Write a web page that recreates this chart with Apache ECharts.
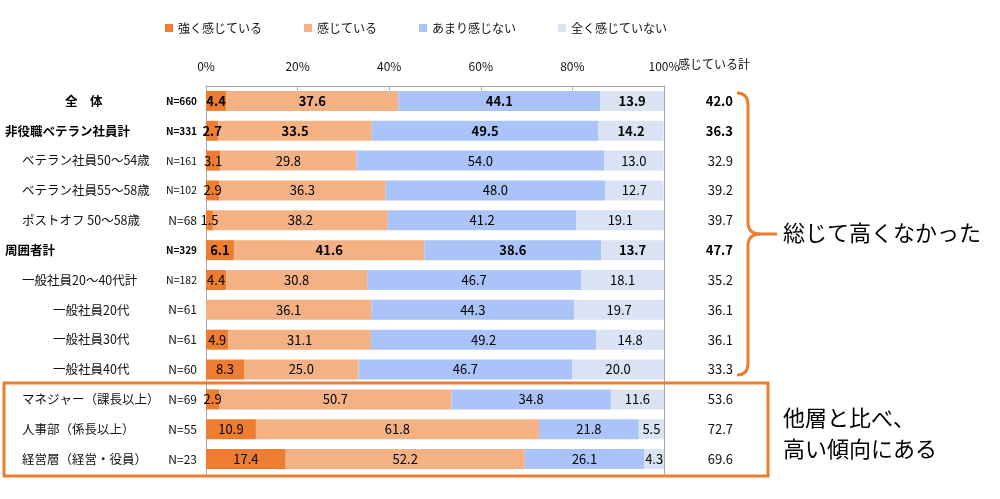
<!DOCTYPE html>
<html><head><meta charset="utf-8">
<script src="https://cdn.jsdelivr.net/npm/echarts@6/dist/echarts.min.js"></script>
<style>html,body{margin:0;padding:0;background:#fff}#c{width:1000px;height:499px}</style>
</head><body><div id="c"></div>
<script>
const categories = ['全　体','非役職ベテラン社員計','ベテラン社員50～54歳','ベテラン社員55～58歳','ポストオフ 50～58歳','周囲者計','一般社員20～40代計','一般社員20代','一般社員30代','一般社員40代','マネジャー（課長以上）','人事部（係長以上）','経営層（経営・役員）'];
const sampleSizes = ['N=660','N=331','N=161','N=102','N=68','N=329','N=182','N=61','N=61','N=60','N=69','N=55','N=23'];
const seriesNames = ['強く感じている','感じている','あまり感じない','全く感じていない'];
const strong   = [4.4, 2.7, 3.1, 2.9, 1.5, 6.1, 4.4, 0, 4.9, 8.3, 2.9, 10.9, 17.4];
const feel     = [37.6, 33.5, 29.8, 36.3, 38.2, 41.6, 30.8, 36.1, 31.1, 25.0, 50.7, 61.8, 52.2];
const notMuch  = [44.1, 49.5, 54.0, 48.0, 41.2, 38.6, 46.7, 44.3, 49.2, 46.7, 34.8, 21.8, 26.1];
const notAtAll = [13.9, 14.2, 13.0, 12.7, 19.1, 13.7, 18.1, 19.7, 14.8, 20.0, 11.6, 5.5, 4.3];
const totals   = [42.0, 36.3, 32.9, 39.2, 39.7, 47.7, 35.2, 36.1, 36.1, 33.3, 53.6, 72.7, 69.6];
const totalHeader = '感じている計';

// styling (not data)
const boldRows = [0, 1, 5];
const indentStyle = ['top','lv0','lv1','lv1','lv1','lv0','lv1','lv2','lv2','lv2','lv1','lv1','lv1'];
const colors = ['#ED7D31','#F4B183','#AAC4F9','#DAE3F3'];
const FONT = '"Noto Sans CJK JP", "Noto Sans", sans-serif';
const ORANGE = '#ED7D31';

const chart = echarts.init(document.getElementById('c'), null, {renderer:'canvas'});
const values = [strong, feel, notMuch, notAtAll];

const series = values.map((arr, si) => ({
  name: seriesNames[si],
  type: 'bar',
  stack: 'all',
  barWidth: 20,
  itemStyle: {color: colors[si]},
  data: arr.map((v, i) => ({
    value: v,
    label: {fontWeight: boldRows.includes(i) ? 'bold' : 'normal'}
  })),
  label: {
    show: true,
    position: 'inside',
    color: '#000',
    fontFamily: FONT,
    fontSize: 13,
    formatter: p => p.value > 0 ? p.value.toFixed(1) : ''
  },
  emphasis: {disabled: true},
  animation: false
}));

const braceStyle = {stroke: ORANGE, lineWidth: 3, fill: null};
const option = {
  animation: false,
  textStyle: {fontFamily: FONT},
  legend: {
    data: seriesNames,
    left: 160, top: 17,
    itemWidth: 8, itemHeight: 8, itemGap: 42,
    icon: 'rect',
    textStyle: {fontFamily: FONT, fontSize: 12, color: '#111'}
  },
  grid: {left: 206, right: 336, top: 86, bottom: 25},
  xAxis: {
    type: 'value', position: 'top', min: 0, max: 100, interval: 20,
    axisLine: {show: true, lineStyle: {color: '#A6A6A6', width: 1}},
    axisTick: {show: true, inside: true, length: 4, lineStyle: {color: '#A6A6A6'}},
    splitLine: {show: false},
    axisLabel: {
      margin: 14, color: '#111', fontFamily: FONT, fontSize: 12,
      formatter: v => v + '%'
    }
  },
  yAxis: [
    {
      type: 'category', data: categories, inverse: true, position: 'left',
      axisLine: {show: true, lineStyle: {color: '#A6A6A6'}},
      axisTick: {show: false},
      axisLabel: {
        margin: 201, align: 'left', interval: 0,
        formatter: (v, i) => '{' + indentStyle[i] + '|' + v + '}',
        rich: {
          top: {fontFamily: FONT, fontSize: 12.5, fontWeight: 'bold', color: '#000', padding: [0,0,0,60]},
          lv0: {fontFamily: FONT, fontSize: 12.5, fontWeight: 'bold', color: '#000', padding: [0,0,0,0]},
          lv1: {fontFamily: FONT, fontSize: 12.5, color: '#111', padding: [0,0,0,17]},
          lv2: {fontFamily: FONT, fontSize: 12.5, color: '#111', padding: [0,0,0,48]}
        }
      }
    },
    {
      type: 'category', data: sampleSizes, inverse: true, position: 'left',
      axisLine: {show: false}, axisTick: {show: false},
      axisLabel: {
        margin: 9, align: 'right', interval: 0,
        formatter: (v, i) => {
          const b = boldRows.includes(i) ? 'B' : 'R';
          const s = v.length > 4 ? 's' : 'm';
          return '{' + s + b + '|' + v + '}';
        },
        rich: {
          sB: {fontFamily: FONT, fontSize: 10, fontWeight: 'bold', color: '#000'},
          sR: {fontFamily: FONT, fontSize: 10.5, color: '#111'},
          mB: {fontFamily: FONT, fontSize: 12, fontWeight: 'bold', color: '#000'},
          mR: {fontFamily: FONT, fontSize: 12, color: '#111'}
        }
      }
    },
    {
      type: 'category', data: totals.map(v => v.toFixed(1)), inverse: true, position: 'right',
      axisLine: {show: true, lineStyle: {color: '#A6A6A6'}},
      axisTick: {show: false},
      axisLabel: {
        margin: 69, align: 'right', interval: 0,
        formatter: (v, i) => '{' + (boldRows.includes(i) ? 'b' : 'r') + '|' + v + '}',
        rich: {
          b: {fontFamily: FONT, fontSize: 13, fontWeight: 'bold', color: '#000'},
          r: {fontFamily: FONT, fontSize: 13, color: '#111'}
        }
      }
    }
  ],
  series: series,
  graphic: [
    {
      type: 'text', z: 100, left: 678, top: 58,
      style: {text: totalHeader, font: '12px ' + FONT, fill: '#111'}
    },
    {type: 'bezierCurve', z: 100, shape: {x1: 737, y1: 93, cpx1: 748, cpy1: 93, x2: 748, y2: 105}, style: braceStyle},
    {type: 'line', z: 100, shape: {x1: 748, y1: 105, x2: 748, y2: 222}, style: braceStyle},
    {type: 'bezierCurve', z: 100, shape: {x1: 748, y1: 222, cpx1: 748, cpy1: 234, x2: 760, y2: 234}, style: braceStyle},
    {type: 'line', z: 100, shape: {x1: 760, y1: 234, x2: 777, y2: 234}, style: braceStyle},
    {type: 'bezierCurve', z: 100, shape: {x1: 760, y1: 234, cpx1: 748, cpy1: 234, x2: 748, y2: 246}, style: braceStyle},
    {type: 'line', z: 100, shape: {x1: 748, y1: 246, x2: 748, y2: 363}, style: braceStyle},
    {type: 'bezierCurve', z: 100, shape: {x1: 748, y1: 363, cpx1: 748, cpy1: 375, x2: 737, y2: 375}, style: braceStyle},
    {
      type: 'text', z: 100, left: 783, top: 222,
      style: {text: '総じて高くなかった', font: '22px ' + FONT, fill: '#000'}
    },
    {
      type: 'rect', z: 100,
      shape: {x: 4, y: 383, width: 764, height: 93},
      style: {fill: null, stroke: ORANGE, lineWidth: 3}
    },
    {
      type: 'text', z: 100, left: 783, top: 402,
      style: {text: '他層と比べ、\n高い傾向にある', font: '22px ' + FONT, fill: '#000', lineHeight: 31}
    }
  ]
};
chart.setOption(option);
</script>
</body></html>
